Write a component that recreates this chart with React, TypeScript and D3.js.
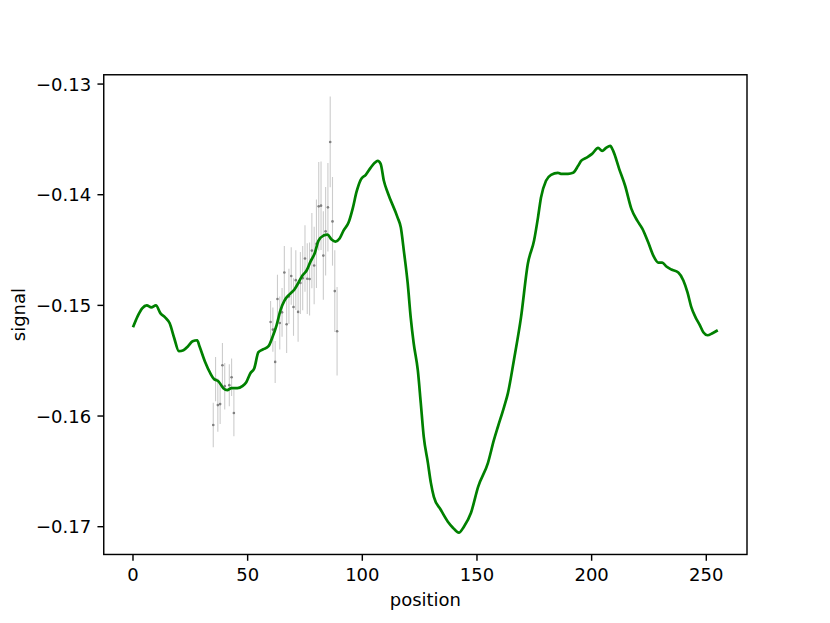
import React from "react";
import * as d3 from "d3";

// Smoothed signal curve (position, signal)
const linePos = [0, 2, 4, 6, 8, 10, 12, 14, 16, 18, 20, 22, 24, 26, 28, 29, 31.5, 33.7, 35.4, 37.2, 39.4, 41.1, 42.9, 45.5, 47.7, 49.4, 51.2, 52.9, 54.7, 56.9, 59.1, 60.8, 62.6, 64.3, 66.1, 68.7, 70.4, 72.2, 73.9, 75.7, 77.4, 79.2, 80.9, 83.1, 84.8, 86.6, 88.3, 90.1, 91.8, 94, 95.8, 97.5, 99.3, 101.5, 103.6, 105.4, 106.7, 108, 109.4, 111.1, 115.4, 116.8, 118.1, 119.8, 121.1, 122.4, 124.2, 125.5, 126.8, 128.6, 129.9, 131.2, 134.2, 137.3, 139.5, 142.1, 144.3, 147.4, 150.5, 154.8, 157.4, 159.1, 161.8, 163.5, 166.1, 169.2, 172.2, 174.9, 176.6, 177.9, 180.1, 182.3, 185.3, 186.6, 189.7, 191.9, 194.1, 195.4, 197.6, 200.2, 202.8, 204.6, 206.3, 208.1, 209.4, 212, 214.6, 217.3, 219.9, 222.1, 224.7, 226.9, 229.1, 230.8, 232.6, 234.8, 237.8, 240, 241.8, 243.5, 245.3, 247, 248.7, 250.5, 252.7, 255];
const lineSignal = [-0.15198, -0.15099, -0.15027, -0.15, -0.15018, -0.15, -0.15072, -0.15108, -0.15162, -0.15297, -0.15414, -0.15405, -0.15369, -0.15324, -0.15315, -0.15369, -0.15514, -0.15613, -0.15667, -0.15685, -0.15748, -0.15766, -0.15748, -0.15748, -0.1573, -0.15694, -0.15613, -0.15568, -0.15423, -0.15396, -0.15369, -0.15288, -0.1518, -0.15045, -0.14955, -0.14892, -0.14856, -0.14793, -0.1473, -0.14685, -0.14604, -0.14532, -0.14414, -0.14369, -0.1436, -0.14405, -0.14423, -0.14396, -0.14324, -0.14252, -0.14126, -0.13973, -0.13865, -0.1382, -0.13757, -0.13712, -0.13694, -0.13721, -0.13874, -0.13982, -0.14207, -0.14297, -0.14505, -0.14802, -0.15108, -0.15342, -0.15586, -0.15883, -0.16189, -0.16423, -0.16604, -0.1673, -0.16847, -0.16955, -0.17009, -0.17054, -0.17, -0.16874, -0.1664, -0.16423, -0.16216, -0.16099, -0.15919, -0.15793, -0.15495, -0.15108, -0.14622, -0.14414, -0.14207, -0.14027, -0.13874, -0.1382, -0.13802, -0.13811, -0.13811, -0.13802, -0.13739, -0.13694, -0.13667, -0.13631, -0.13577, -0.13604, -0.13577, -0.13559, -0.13604, -0.13766, -0.13919, -0.14126, -0.14234, -0.14306, -0.14432, -0.1455, -0.14613, -0.14613, -0.14649, -0.14676, -0.14703, -0.14775, -0.14883, -0.15018, -0.15108, -0.15171, -0.15243, -0.1527, -0.15252, -0.15225];

// Measured samples with error bars
const obsPos = [35, 36, 37, 38, 39, 40, 42, 43, 44, 60, 61, 62, 63, 64, 65, 66, 67, 68, 69, 70, 71, 72, 73, 74, 75, 76, 77, 78, 79, 80, 81, 82, 83, 84, 85, 86, 87, 88, 89];
const obsSignal = [-0.16081, -0.15667, -0.15901, -0.15892, -0.15541, -0.1573, -0.15721, -0.15649, -0.15973, -0.1515, -0.15219, -0.15511, -0.14943, -0.15159, -0.15063, -0.14703, -0.15171, -0.14919, -0.14734, -0.15015, -0.14772, -0.15059, -0.14797, -0.14754, -0.14577, -0.14759, -0.14761, -0.14505, -0.1464, -0.14444, -0.14105, -0.14099, -0.1455, -0.14331, -0.14114, -0.13523, -0.14241, -0.14871, -0.15234];
const obsErr = [0.002, 0.002, 0.0024, 0.0018, 0.002, 0.0021, 0.0019, 0.0017, 0.0021, 0.0019, 0.002, 0.0019, 0.0022, 0.0024, 0.0022, 0.0024, 0.0026, 0.0025, 0.0026, 0.0026, 0.0027, 0.0027, 0.0028, 0.0029, 0.003, 0.0032, 0.0033, 0.0034, 0.0035, 0.004, 0.004, 0.004, 0.004, 0.004, 0.004, 0.0041, 0.004, 0.0037, 0.004];

const xTicks = [0, 50, 100, 150, 200, 250];
const yTicks = [-0.17, -0.16, -0.15, -0.14, -0.13];

const W = 830;
const H = 623;
const L = 103.75;
const R = 747;
const T = 74.76;
const B = 554.47;
const PT = 830 / 6.4 / 72; // px per point
const FS = 10 * PT;
const TICK = 3.5 * PT;

function pad(lo: number, hi: number): [number, number] {
  const s = hi - lo;
  return [lo - 0.05 * s, hi + 0.05 * s];
}

export default function App() {
  const xMin = 0;
  const xMax = d3.max(linePos) as number;
  const yLo = Math.min(d3.min(lineSignal) as number, d3.min(obsSignal.map((v, i) => v - obsErr[i])) as number);
  const yHi = Math.max(d3.max(lineSignal) as number, d3.max(obsSignal.map((v, i) => v + obsErr[i])) as number);

  const x = d3.scaleLinear().domain(pad(xMin, xMax)).range([L, R]);
  const y = d3.scaleLinear().domain(pad(yLo, yHi)).range([B, T]);

  const lineData = linePos.map((p, i) => [p, lineSignal[i]] as [number, number]);
  const path = d3
    .line<[number, number]>()
    .x((d) => x(d[0]))
    .y((d) => y(d[1]))
    .curve(d3.curveMonotoneX)(lineData) as string;

  const font = "'DejaVu Sans', sans-serif";
  const fmt = (v: number) => (v < 0 ? "\u2212" : "") + Math.abs(v).toFixed(2);

  return (
    <svg width={W} height={H} style={{ position: "absolute", left: 0, top: 0, background: "#fff" }}>
      <rect x={0} y={0} width={W} height={H} fill="#fff" />
      <defs>
        <clipPath id="plot">
          <rect x={L} y={T} width={R - L} height={B - T} />
        </clipPath>
      </defs>
      <g clipPath="url(#plot)">
        {obsPos.map((p, i) => (
          <line
            key={"e" + i}
            x1={x(p)}
            x2={x(p)}
            y1={y(obsSignal[i] - obsErr[i])}
            y2={y(obsSignal[i] + obsErr[i])}
            stroke="#cccccc"
            strokeWidth={1.1}
          />
        ))}
        {obsPos.map((p, i) => (
          <circle key={"p" + i} cx={x(p)} cy={y(obsSignal[i])} r={1.3} fill="#808080" />
        ))}
        <path d={path} fill="none" stroke="#008000" strokeWidth={1.5 * PT} strokeLinejoin="round" strokeLinecap="butt" />
      </g>
      <rect x={L} y={T} width={R - L} height={B - T} fill="none" stroke="#000" strokeWidth={0.8 * PT} />
      {xTicks.map((t) => (
        <g key={"xt" + t}>
          <line x1={x(t)} x2={x(t)} y1={B} y2={B + TICK} stroke="#000" strokeWidth={0.8 * PT} />
          <text x={x(t)} y={B + 2 * TICK + 0.76 * FS} textAnchor="middle" fontFamily={font} fontSize={FS} fill="#000">
            {t}
          </text>
        </g>
      ))}
      {yTicks.map((t) => (
        <g key={"yt" + t}>
          <line x1={L - TICK} x2={L} y1={y(t)} y2={y(t)} stroke="#000" strokeWidth={0.8 * PT} />
          <text x={L - 2 * TICK} y={y(t)} dy="0.36em" textAnchor="end" fontFamily={font} fontSize={FS} fill="#000">
            {fmt(t)}
          </text>
        </g>
      ))}
      <text x={(L + R) / 2} y={606} textAnchor="middle" fontFamily={font} fontSize={FS} fill="#000">
        position
      </text>
      <text
        transform={`translate(25, ${(T + B) / 2}) rotate(-90)`}
        textAnchor="middle"
        fontFamily={font}
        fontSize={FS}
        fill="#000"
      >
        signal
      </text>
    </svg>
  );
}
